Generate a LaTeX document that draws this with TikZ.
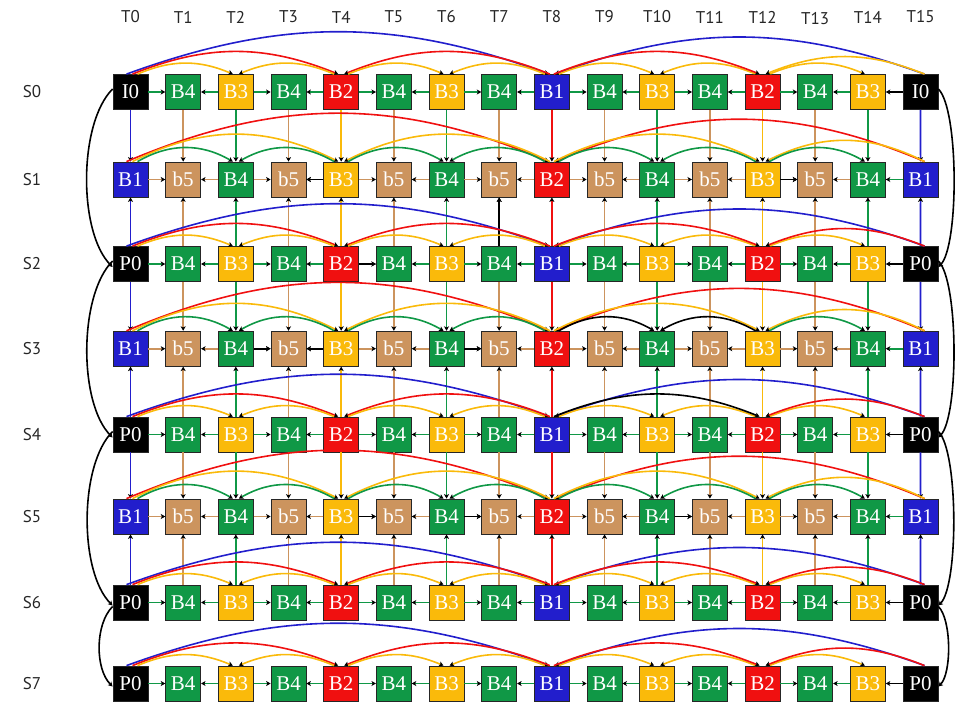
\documentclass[tikz,border=0pt]{standalone}
\usepackage{fontspec}
\setmainfont{Liberation Serif}
\newfontfamily\lblfont{PT Sans}
\usetikzlibrary{arrows.meta}
\definecolor{cg}{RGB}{16,152,70}
\definecolor{cy}{RGB}{250,186,10}
\definecolor{cr}{RGB}{240,16,16}
\definecolor{cb}{RGB}{34,30,204}
\definecolor{ct}{RGB}{204,148,94}
\tikzset{
  box/.style={draw=black!85,line width=0.8pt,minimum size=35pt,inner sep=0pt,text=white,font=\fontsize{21}{21}\selectfont},
  lnk/.style={line width=1.6pt,-{Stealth[length=4.5pt,width=5pt,inset=1.2pt,black]}},
  lbl/.style={font=\lblfont\fontsize{17}{17}\selectfont,text=black!85},
}
\newcommand\myarc[5]{%
  \pgfmathsetmacro\sgn{(#3>#2)?1:-1}%
  \pgfmathsetmacro\aout{(#3>#2)?#5:180-#5}%
  \pgfmathsetmacro\ain{180-\aout}%
  \pgfmathsetmacro\off{(abs(#3-#2)==2)?7:((abs(#3-#2)==4)?2:-4)}%
  \pgfmathsetmacro\dsa{\sgn*\off}%
  \pgfmathsetmacro\dta{-3*\sgn}%
  \draw[lnk,#4] ([xshift=\dsa pt]n#1-#2.north) to[out=\aout,in=\ain] ([xshift=\dta pt]n#1-#3.north);
}
\begin{document}
\begin{tikzpicture}[x=1pt,y=1pt]
\useasboundingbox (0,0) rectangle (955,-701);
% frames
\foreach \r/\yy in {0/92,2/264,4/434.5,6/602.5,7/683.5}{
  \foreach \c/\col/\lab in {1/cg/B4,2/cy/B3,3/cg/B4,4/cr/B2,5/cg/B4,6/cy/B3,7/cg/B4,8/cb/B1,9/cg/B4,10/cy/B3,11/cg/B4,12/cr/B2,13/cg/B4,14/cy/B3}{
    \node[box,fill=\col] (n\r-\c) at ({130.5+52.67*\c},-\yy) {\lab};
  }
  \node[box,fill=black] (n\r-0) at (130.5,-\yy) {\ifnum\r=0 I0\else P0\fi};
  \node[box,fill=black] (n\r-15) at (920.5,-\yy) {\ifnum\r=0 I0\else P0\fi};
  \node[lbl] (s\r) at (32,-\yy) {S\r};
}
\foreach \r/\yy in {1/179.5,3/348.7,5/516.5}{
  \foreach \c/\col/\lab in {0/cb/B1,1/ct/b5,2/cg/B4,3/ct/b5,4/cy/B3,5/ct/b5,6/cg/B4,7/ct/b5,8/cr/B2,9/ct/b5,10/cg/B4,11/ct/b5,12/cy/B3,13/ct/b5,14/cg/B4,15/cb/B1}{
    \node[box,fill=\col] (n\r-\c) at ({130.5+52.67*\c},-\yy) {\lab};
  }
  \node[lbl] (s\r) at (32,-\yy) {S\r};
}
% column labels
\foreach \c in {0,...,15}{
  \node[lbl] (t\c) at ({130.5+52.67*\c},{\ifnum\c=13 -19\else -17\fi}) {T\c};
}
% vertical references
\foreach \c/\vc in {0/cb,1/ct,2/cg,3/ct,4/cy,5/ct,6/cg,7/ct,8/cr,9/ct,10/cg,11/ct,12/cy,13/ct,14/cg,15/cb}{
  \foreach \a/\b in {0/1,2/1,2/3,4/3,4/5,6/5}{\draw[lnk,\vc] (n\a-\c) -- (n\b-\c);}
}
\draw[lnk,black] (n2-7) -- (n1-7);
% horizontal references
\foreach \r in {0,2,4,6,7}{
  \foreach \c in {1,3,...,13}{
    \pgfmathtruncatemacro\pa{\c-1}\pgfmathtruncatemacro\pb{\c+1}
    \draw[lnk,cg] (n\r-\pa) -- (n\r-\c);
    \draw[lnk,cg] (n\r-\pb) -- (n\r-\c);
  }
  \draw[lnk,black] (n\r-15) -- (n\r-14);
}
\foreach \r in {1,3,5}{
  \foreach \c in {1,3,...,13}{
    \pgfmathtruncatemacro\pa{\c-1}\pgfmathtruncatemacro\pb{\c+1}
    \draw[lnk,ct] (n\r-\pa) -- (n\r-\c);
    \draw[lnk,ct] (n\r-\pb) -- (n\r-\c);
  }
  \draw[lnk,cg] (n\r-15) -- (n\r-14);
}
\foreach \r/\s/\t in {1/4/3,1/12/13,2/4/5,3/2/3,3/4/3,3/6/7,5/4/5,5/6/7,5/10/11}{
  \draw[lnk,black] (n\r-\s) -- (n\r-\t);
}
% arcs, even rows
\foreach \r in {0,2,4,6,7}{
  \foreach \s/\t in {0/8,15/8}{\myarc{\r}{\s}{\t}{cb}{20}}
  \foreach \s/\t in {0/4,8/4}{\myarc{\r}{\s}{\t}{cr}{22}}
  \foreach \s/\t in {0/2,4/2,4/6,8/6,8/10,12/10,12/14}{\myarc{\r}{\s}{\t}{cy}{23}}
}
\foreach \r in {0,2,6,7}{\myarc{\r}{8}{12}{cr}{22}}
\myarc{4}{8}{12}{black}{22}
\foreach \r in {2,4,6,7}{\myarc{\r}{15}{12}{cr}{22}}
\myarc{0}{15}{12}{cy}{22}
% arcs, odd rows
\foreach \r in {1,3,5}{
  \foreach \s/\t in {0/8,15/8}{\myarc{\r}{\s}{\t}{cr}{23}}
  \foreach \s/\t in {0/4,8/4,8/12,15/12}{\myarc{\r}{\s}{\t}{cy}{27}}
  \foreach \s/\t in {0/2,4/2,4/6,8/6,12/14}{\myarc{\r}{\s}{\t}{cg}{30}}
}
\foreach \r in {1,5}{\foreach \s/\t in {8/10,12/10}{\myarc{\r}{\s}{\t}{cg}{30}}}
\foreach \s/\t in {8/10,12/10}{\myarc{3}{\s}{\t}{black}{30}}
% P-frame chain
\foreach \a/\b in {0/2,2/4,4/6}{
  \draw[lnk,black] ([yshift=3pt]n\a-0.west) to[out=225,in=135,looseness=0.7] ([yshift=-3pt]n\b-0.west);
  \draw[lnk,black] ([yshift=3pt]n\a-15.east) to[out=-45,in=45,looseness=0.42] ([yshift=-3pt]n\b-15.east);
}
\draw[lnk,black] ([yshift=-4pt]n6-0.west) to[out=225,in=135,looseness=0.8] ([yshift=-3pt]n7-0.west);
\draw[lnk,black] ([yshift=-4pt]n6-15.east) to[out=-45,in=45,looseness=0.6] ([yshift=-3pt]n7-15.east);
\end{tikzpicture}
\end{document}
